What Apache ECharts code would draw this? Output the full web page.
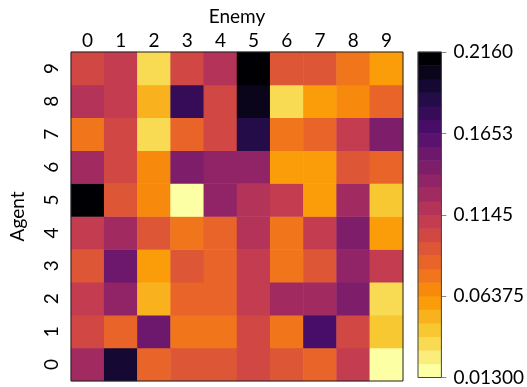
<!DOCTYPE html>
<html>
<head>
<meta charset="utf-8">
<script src="https://cdn.jsdelivr.net/npm/echarts@6/dist/echarts.min.js"></script>
<style>
  html, body { margin: 0; padding: 0; background: #fff; }
  #chart { width: 527px; height: 387px; }
</style>
</head>
<body>
<div id="chart"></div>
<script>
// Axis categories
const enemies = ['0', '1', '2', '3', '4', '5', '6', '7', '8', '9'];
const agents = ['0', '1', '2', '3', '4', '5', '6', '7', '8', '9'];

// Cell values, one array per agent (agent 0 first), columns are enemies 0..9
const agent0 = [0.1272, 0.1949, 0.0849, 0.0934, 0.0934, 0.1018, 0.0934, 0.0849, 0.1103, 0.0130];
const agent1 = [0.1018, 0.0849, 0.1526, 0.0764, 0.0764, 0.1018, 0.0764, 0.1695, 0.1018, 0.0426];
const agent2 = [0.1103, 0.1357, 0.0511, 0.0849, 0.0849, 0.1103, 0.1272, 0.1272, 0.1441, 0.0341];
const agent3 = [0.0934, 0.1526, 0.0595, 0.0934, 0.0849, 0.1103, 0.0764, 0.0934, 0.1357, 0.1103];
const agent4 = [0.1103, 0.1272, 0.0934, 0.0764, 0.0849, 0.1187, 0.0764, 0.1103, 0.1441, 0.0595];
const agent5 = [0.2160, 0.0934, 0.0680, 0.0130, 0.1357, 0.1187, 0.1103, 0.0595, 0.1272, 0.0426];
const agent6 = [0.1272, 0.1018, 0.0680, 0.1441, 0.1357, 0.1357, 0.0595, 0.0595, 0.0934, 0.0849];
const agent7 = [0.0764, 0.1018, 0.0341, 0.0849, 0.1018, 0.1864, 0.0764, 0.0849, 0.1103, 0.1441];
const agent8 = [0.1187, 0.1103, 0.0511, 0.1780, 0.1018, 0.2033, 0.0341, 0.0595, 0.0680, 0.0849];
const agent9 = [0.1018, 0.1103, 0.0341, 0.1018, 0.1187, 0.2160, 0.0934, 0.0934, 0.0764, 0.0595];
const agentRows = [agent0, agent1, agent2, agent3, agent4, agent5, agent6, agent7, agent8, agent9];

// Colour scale range and colourbar tick labels (bottom to top)
const vmin = 0.013;
const vmax = 0.216;
const nLevels = 24;
const cbTickLabels = ['0.01300', '0.06375', '0.1145', '0.1653', '0.2160'];

// Inferno colormap anchors (t, r, g, b), interpolated linearly
const infernoStops = [
  [0.000, 0, 0, 4], [0.111, 27, 12, 65], [0.222, 74, 12, 107], [0.250, 87, 16, 110],
  [0.333, 120, 28, 109], [0.444, 165, 44, 96], [0.500, 188, 55, 84], [0.556, 207, 68, 70],
  [0.667, 237, 105, 37], [0.750, 249, 142, 9], [0.778, 251, 155, 6], [0.889, 247, 209, 61],
  [1.000, 252, 255, 164]
];
function inferno(t) {
  for (let i = 1; i < infernoStops.length; i++) {
    const a = infernoStops[i - 1], b = infernoStops[i];
    if (t <= b[0]) {
      const f = (t - a[0]) / (b[0] - a[0]);
      const c = [1, 2, 3].map(j => Math.round(a[j] + (b[j] - a[j]) * f));
      return 'rgb(' + c.join(',') + ')';
    }
  }
  return 'rgb(252,255,164)';
}

// Discrete reversed-inferno levels: level 0 is the lightest
const step = (vmax - vmin) / nLevels;
const pieces = [];
for (let k = 0; k < nLevels; k++) {
  const piece = { gte: vmin + k * step, color: inferno(1 - k / (nLevels - 1)) };
  if (k < nLevels - 1) piece.lt = vmin + (k + 1) * step; else piece.lte = vmax + 1e-9;
  if (k === 0) piece.gte = vmin - 1e-9;
  pieces.push(piece);
}

const cellData = [];
agentRows.forEach((row, a) => row.forEach((v, e) => cellData.push([e, a, v])));

const levelIdx = [];
const barData = [];
for (let k = 0; k < nLevels; k++) {
  levelIdx.push(String(k));
  barData.push([0, k, vmin + (k + 0.5) * step]);
}

const FONT = 'Lato';
const FS = 19;
const chart = echarts.init(document.getElementById('chart'), null, { renderer: 'canvas' });
chart.setOption({
  animation: false,
  textStyle: { fontFamily: FONT, color: '#000' },
  grid: [
    { left: 62, top: 52, width: 341, height: 329, show: true, z: 3,
      backgroundColor: 'transparent', borderColor: '#222', borderWidth: 1 },
    { left: 418, top: 52, width: 27, height: 327, show: true, z: 3,
      backgroundColor: 'transparent', borderColor: '#444', borderWidth: 1 }
  ],
  xAxis: [
    { type: 'category', gridIndex: 0, data: enemies, position: 'top',
      name: 'Enemy', nameLocation: 'middle', nameGap: 26,
      nameTextStyle: { fontSize: FS, fontFamily: FONT, color: '#000' },
      axisLine: { show: false }, axisTick: { show: false },
      axisLabel: { fontSize: FS, margin: 2, color: '#000', fontFamily: FONT } },
    { type: 'category', gridIndex: 1, data: [''], show: false }
  ],
  yAxis: [
    { type: 'category', gridIndex: 0, data: agents,
      name: 'Agent', nameLocation: 'middle', nameGap: 44, nameRotate: 90,
      nameTextStyle: { fontSize: FS, fontFamily: FONT, color: '#000' },
      axisLine: { show: false }, axisTick: { show: false },
      axisLabel: { fontSize: FS, rotate: 90, margin: 10, color: '#000', fontFamily: FONT } },
    { type: 'category', gridIndex: 1, data: levelIdx, show: false },
    { type: 'value', gridIndex: 1, position: 'right', min: 0, max: nLevels, interval: 6,
      axisLine: { show: false }, splitLine: { show: false },
      axisTick: { show: true, length: 5, lineStyle: { color: '#888', width: 1 } },
      axisLabel: { fontSize: FS, margin: 12, color: '#000', fontFamily: FONT,
        formatter: v => cbTickLabels[Math.round(v / 6)] } }
  ],
  visualMap: {
    type: 'piecewise', show: false, dimension: 2, seriesIndex: [0, 1], pieces: pieces
  },
  series: [
    { type: 'heatmap', xAxisIndex: 0, yAxisIndex: 0, data: cellData,
      itemStyle: { borderWidth: 0 }, emphasis: { disabled: true } },
    { type: 'heatmap', xAxisIndex: 1, yAxisIndex: 1, data: barData,
      itemStyle: { borderWidth: 0 }, emphasis: { disabled: true } }
  ]
});
</script>
</body>
</html>
